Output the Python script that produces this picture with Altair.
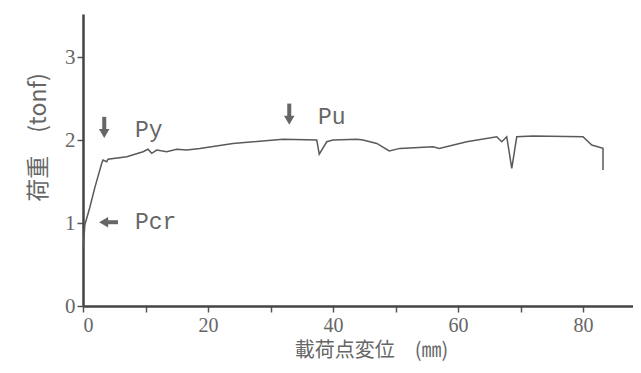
import altair as alt
import pandas as pd

# load-displacement curve (mm, tonf)
disp = [0.05, 0.3, 1.1, 1.9, 3.0, 3.2, 3.8, 4.0, 7.0, 9.6, 10.4, 11.0, 11.8, 13.4, 15.0,
        16.6, 18.7, 24.0, 32.0, 37.4, 37.8, 39.0, 40.0, 43.8, 44.8, 47.0, 49.0, 50.7, 56.0,
        57.0, 61.4, 66.2, 67.0, 67.8, 68.6, 69.4, 72.0, 80.0, 81.4, 83.2, 83.2]
load = [0.72, 0.98, 1.19, 1.43, 1.72, 1.76, 1.74, 1.77, 1.80, 1.86, 1.89, 1.84, 1.88, 1.86, 1.89,
        1.88, 1.90, 1.96, 2.01, 2.00, 1.83, 1.98, 2.00, 2.01, 2.00, 1.96, 1.87, 1.90, 1.92,
        1.90, 1.98, 2.04, 1.98, 2.04, 1.66, 2.04, 2.05, 2.04, 1.94, 1.90, 1.64]

# annotations
labels = ["Py", "Pu", "Pcr"]
label_x = [8.3, 37.6, 8.3]
label_y = [2.12, 2.28, 1.01]

# arrows: shaft start/end and head position
arrow_x1 = [3.4, 33.0, 5.6]
arrow_x2 = [3.4, 33.0, 3.6]
arrow_y1 = [2.28, 2.44, 1.01]
arrow_y2 = [2.10, 2.26, 1.01]
head_x = [3.4, 33.0, 3.3]
head_y = [2.08, 2.24, 1.01]
head_shape = ["triangle-down", "triangle-down", "triangle-left"]

curve = pd.DataFrame({"x": disp, "y": load})
ann = pd.DataFrame({"t": labels, "x": label_x, "y": label_y})
arr = pd.DataFrame({"x1": arrow_x1, "x2": arrow_x2, "y1": arrow_y1, "y2": arrow_y2,
                    "hx": head_x, "hy": head_y, "shape": head_shape})

gray = "#5a5a5a"
xs = alt.Scale(domain=[0, 88], nice=False, zero=False)
ys = alt.Scale(domain=[0, 3.52], nice=False)

line = alt.Chart(curve).mark_line(color=gray, strokeWidth=1.5).encode(
    x=alt.X("x:Q", scale=xs, title="載荷点変位　(㎜)",
            axis=alt.Axis(values=[0, 10, 20, 30, 40, 50, 60, 70, 80],
                          labelExpr="datum.value % 20 == 0 ? datum.label : ''",
                          grid=False, tickSize=6, labelPadding=3, labelFontSize=20,
                          titlePadding=5, titleX=288)),
    y=alt.Y("y:Q", scale=ys, title="荷重　(tonf)",
            axis=alt.Axis(values=[0, 1, 2, 3], format="d", grid=False, tickSize=6,
                          labelPadding=2, titlePadding=14, titleY=123, titleFontSize=23)),
    order=alt.Order("idx:Q"),
).transform_window(idx="row_number()")

rules = alt.Chart(arr).mark_rule(color="#666666", strokeWidth=4).encode(
    x="x1:Q", x2="x2:Q", y="y1:Q", y2="y2:Q")

heads = alt.Chart(arr).mark_point(filled=True, color="#666666", size=110, opacity=1).encode(
    x="hx:Q", y="hy:Q", shape=alt.Shape("shape:N", scale=None, legend=None))

texts = alt.Chart(ann).mark_text(align="left", baseline="middle", font="Liberation Mono",
                                 fontSize=23, color="#666666").encode(
    x="x:Q", y="y:Q", text="t:N")

chart = alt.layer(line, rules, heads, texts).properties(
    width=550, height=292,
    autosize=alt.AutoSizeParams(type="none"),
    padding={"left": 75, "top": 6, "right": 0, "bottom": 60},
).configure_view(stroke=None).configure_axis(
    domainColor="#444444", domainWidth=2.5, tickColor="#555555", tickWidth=1.5,
    labelFont="Liberation Serif", labelFontSize=21, labelColor="#666666",
    titleFont="Noto Sans CJK JP", titleFontSize=20, titleColor="#666666",
    titleFontWeight="normal",
)

chart.save("out.html", embed_options={"renderer": "svg", "actions": False})
